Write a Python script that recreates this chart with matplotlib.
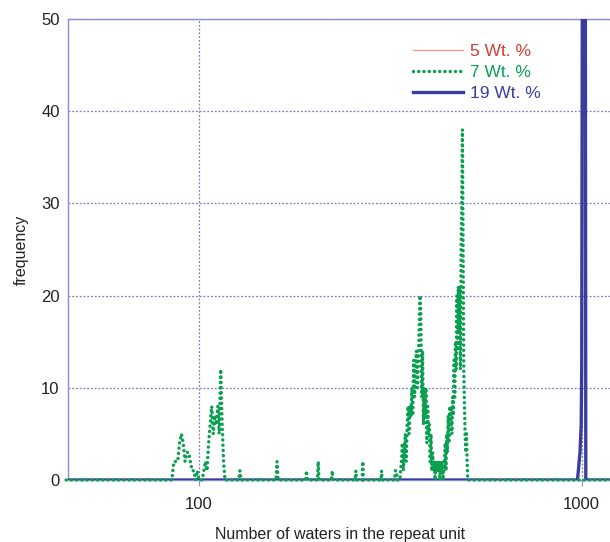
import matplotlib
matplotlib.use("Agg")
import matplotlib.pyplot as plt
from matplotlib.ticker import NullLocator, FixedLocator

plt.rcParams['font.family'] = ['Liberation Sans', 'DejaVu Sans']

# 5 Wt. % : flat at zero (hidden under the other baselines)
x_5 = [45, 1200]
y_5 = [0, 0]

# 7 Wt. %
x_7 = [45, 85, 86, 88, 89, 90, 91, 92, 93, 94, 95, 96, 97, 98, 99, 100,
       102, 103, 104, 105, 106, 107, 108, 109, 110, 111, 112, 113, 114, 115, 116, 117,
       127, 128, 129, 159, 160, 161, 190, 191, 192, 204, 205, 206, 222, 223, 224,
       256, 257, 258, 267, 268, 269, 299, 300, 301, 324, 326, 328, 330,
       335, 338, 340, 342, 344, 346, 348, 350, 352, 354, 356, 358, 360, 362, 364,
       366, 368, 370, 372, 374, 376, 378, 380, 381, 382, 384, 386, 388, 390, 392,
       394, 396, 398, 400, 402, 404, 406, 408, 410, 412, 414, 416, 418, 420, 422,
       424, 426, 428, 430, 432, 434, 436, 438, 440, 442, 444, 446, 448, 450, 452,
       454, 456, 458, 460, 462, 464, 466, 468, 470, 472, 474, 476, 478, 480, 482,
       484, 486, 488, 490, 492, 494, 496, 498, 500, 502, 504, 1200]
y_7 = [0, 0, 2, 2, 4, 5, 4, 2, 3, 3, 2, 1, 1, 0, 1, 0,
       0, 1, 2, 1, 4, 6, 8, 5, 7, 6, 8, 5, 12, 6, 2, 0,
       0, 1, 0, 0, 2, 0, 0, 1, 0, 0, 2, 0, 0, 1, 0,
       0, 1, 0, 0, 2, 0, 0, 1, 0, 0, 1, 1, 0,
       0, 2, 4, 1, 3, 5, 2, 6, 8, 5, 8, 7, 10, 7, 13,
       9, 12, 14, 10, 13, 16, 20, 18, 12, 9, 14, 6, 10, 7, 10,
       4, 8, 5, 6, 2, 5, 1, 3, 1, 2, 0, 2, 1, 2, 1,
       2, 0, 2, 1, 2, 0, 1, 2, 4, 1, 5, 3, 7, 4, 8,
       6, 8, 5, 9, 7, 13, 9, 15, 12, 20, 14, 21, 16, 21, 12,
       25, 30, 38, 25, 12, 8, 5, 3, 5, 2, 0, 0]

# 19 Wt. %
x_19 = [45, 975, 990, 997, 1000, 1005, 1015, 1022, 1025, 1200]
y_19 = [0, 0, 3, 6, 12, 65, 80, 60, 0, 0]

grid_col = '#7a7acc'
spine_col = '#8c8cd0'

fig = plt.figure(figsize=(6.10, 5.42), dpi=100)
ax = fig.add_axes([68 / 610, 1 - 480 / 542, 544 / 610, 461 / 542])

ax.plot(x_5, y_5, color='#eea090', lw=1.0, label='5 Wt. %', zorder=2)
ax.plot(x_19, y_19, color='#3b3d9e', lw=2.4, label='19 Wt. %', zorder=3)
ax.plot(x_7, y_7, color='#0aa050', lw=2.5, linestyle=(0, (0.01, 1.5)),
        dash_capstyle='round', label='7 Wt. %', zorder=4, clip_on=False)

ax.set_xscale('log')
ax.set_xlim(45.5, 1200)
ax.set_ylim(0, 50)
ax.xaxis.set_major_locator(FixedLocator([100, 1000]))
ax.xaxis.set_minor_locator(NullLocator())
ax.set_xticklabels(['100', '1000'])
ax.set_yticks([0, 10, 20, 30, 40, 50])

ax.grid(True, color=grid_col, linestyle=(0, (1.5, 1.5)), lw=0.9)
for s in ax.spines.values():
    s.set_color(spine_col)
    s.set_linewidth(1.0)

ax.tick_params(axis='x', direction='out', length=4, color=spine_col,
               labelsize=12, pad=8, labelcolor='#222222')
ax.tick_params(axis='y', length=0, labelsize=12, pad=6, labelcolor='#222222')

ax.set_xlabel('Number of waters in the repeat unit', fontsize=11.5, labelpad=11, color='#222222')
ax.set_ylabel('frequency', fontsize=11.5, labelpad=9, color='#222222')

handles, labels = ax.get_legend_handles_labels()
order = [0, 2, 1]
leg = ax.legend([handles[i] for i in order], [labels[i] for i in order],
                loc='upper left', bbox_to_anchor=(0.634, 0.947), frameon=False,
                fontsize=12.5, handlelength=2.9, handletextpad=0.4,
                labelspacing=0.36, borderpad=0, borderaxespad=0)
for txt, col in zip(leg.get_texts(), ['#d23c32', '#0aa050', '#3b3d9e']):
    txt.set_color(col)

fig.savefig('out.png', dpi=100)
